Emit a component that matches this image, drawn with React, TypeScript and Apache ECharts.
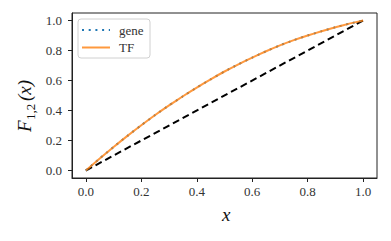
import React, { useEffect, useRef } from "react";
import * as echarts from "echarts";

const xValues = [0, 0.05, 0.1, 0.15, 0.2, 0.25, 0.3, 0.35, 0.4, 0.45, 0.5, 0.55, 0.6, 0.65, 0.7, 0.75, 0.8, 0.85, 0.9, 0.95, 1.0];
const geneValues = [0, 0.08, 0.157, 0.231, 0.302, 0.37, 0.434, 0.495, 0.553, 0.608, 0.66, 0.708, 0.753, 0.795, 0.834, 0.869, 0.9, 0.928, 0.955, 0.979, 1.0];
const tfValues = [0, 0.08, 0.157, 0.231, 0.302, 0.37, 0.434, 0.495, 0.553, 0.608, 0.66, 0.708, 0.753, 0.795, 0.834, 0.869, 0.9, 0.928, 0.955, 0.979, 1.0];
const diagX = [0, 1];
const diagY = [0, 1];
const tickValues = [0, 0.2, 0.4, 0.6, 0.8, 1.0];
const legendNames = ["gene", "TF"];

const FAMILY = "'Liberation Serif', serif";
const BLUE = "#1f77b4";
const ORANGE = "#ff7f0e";

export default function App() {
  const ref = useRef<HTMLDivElement>(null);
  useEffect(() => {
    if (!ref.current) return;
    const chart = echarts.init(ref.current, null, { renderer: "svg" });
    const axisCommon = {
      type: "value",
      min: -0.05,
      max: 1.05,
      splitLine: { show: false },
      axisLine: { show: true, onZero: false, lineStyle: { color: "#222", width: 1 } },
      axisTick: { show: true, length: 4, customValues: tickValues, lineStyle: { color: "#222", width: 1 } },
      axisLabel: {
        customValues: tickValues,
        formatter: (v: number) => v.toFixed(1),
        fontFamily: FAMILY,
        fontSize: 13,
        color: "#333",
      },
    };
    chart.setOption({
      animation: false,
      grid: { left: 72, right: 14, top: 13, bottom: 63, show: true, borderColor: "#222", borderWidth: 1 },
      xAxis: { ...axisCommon, axisLabel: { ...axisCommon.axisLabel, margin: 7 } },
      yAxis: { ...axisCommon, axisLabel: { ...axisCommon.axisLabel, margin: 10 } },
      graphic: [
        {
          type: "rect",
          x: 78,
          y: 19,
          shape: { width: 72, height: 39, r: 3 },
          style: { fill: "rgba(255,255,255,0.85)", stroke: "#d0d0d0", lineWidth: 1 },
          z: 10,
        },
        {
          type: "line",
          shape: { x1: 82, y1: 30, x2: 110, y2: 30 },
          style: { stroke: BLUE, lineWidth: 2, lineDash: [2, 4.7] },
          z: 11,
        },
        {
          type: "line",
          shape: { x1: 82, y1: 47.5, x2: 110, y2: 47.5 },
          style: { stroke: ORANGE, lineWidth: 2, opacity: 0.8 },
          z: 11,
        },
        {
          type: "text",
          x: 119,
          y: 30,
          style: { text: legendNames[0], font: `13px ${FAMILY}`, fill: "#333", textVerticalAlign: "middle" },
          z: 11,
        },
        {
          type: "text",
          x: 119,
          y: 47.5,
          style: { text: legendNames[1], font: `13px ${FAMILY}`, fill: "#333", textVerticalAlign: "middle" },
          z: 11,
        },
        {
          type: "text",
          x: 222,
          y: 205,
          style: { text: "x", font: `italic 19px ${FAMILY}`, fill: "#111" },
        },
        {
          type: "group",
          x: 34,
          y: 132,
          rotation: Math.PI / 2,
          children: [
            { type: "text", x: 0, y: 0, style: { text: "F", font: `italic 19px ${FAMILY}`, fill: "#111", textVerticalAlign: "bottom" } },
            { type: "text", x: 12, y: 3, style: { text: "1,2", font: `13px ${FAMILY}`, fill: "#111", textVerticalAlign: "bottom" } },
            { type: "text", x: 31, y: 0, style: { text: "(x)", font: `italic 19px ${FAMILY}`, fill: "#111", textVerticalAlign: "bottom" } },
          ],
        },
      ],
      series: [
        {
          name: "diag",
          type: "line",
          data: diagX.map((x, i) => [x, diagY[i]]),
          showSymbol: false,
          lineStyle: { color: "#000", width: 2, type: [7, 4] },
          z: 1,
        },
        {
          name: legendNames[0],
          type: "line",
          data: xValues.map((x, i) => [x, geneValues[i]]),
          showSymbol: false,
          smooth: 0.2,
          lineStyle: { color: BLUE, width: 2, type: [2, 4.7] },
          itemStyle: { color: BLUE },
          z: 2,
        },
        {
          name: legendNames[1],
          type: "line",
          data: xValues.map((x, i) => [x, tfValues[i]]),
          showSymbol: false,
          smooth: 0.2,
          lineStyle: { color: ORANGE, width: 2, opacity: 0.8 },
          itemStyle: { color: ORANGE },
          z: 3,
        },
      ],
    });
    return () => chart.dispose();
  }, []);
  return <div ref={ref} style={{ width: 391, height: 241, margin: -8 }} />;
}
